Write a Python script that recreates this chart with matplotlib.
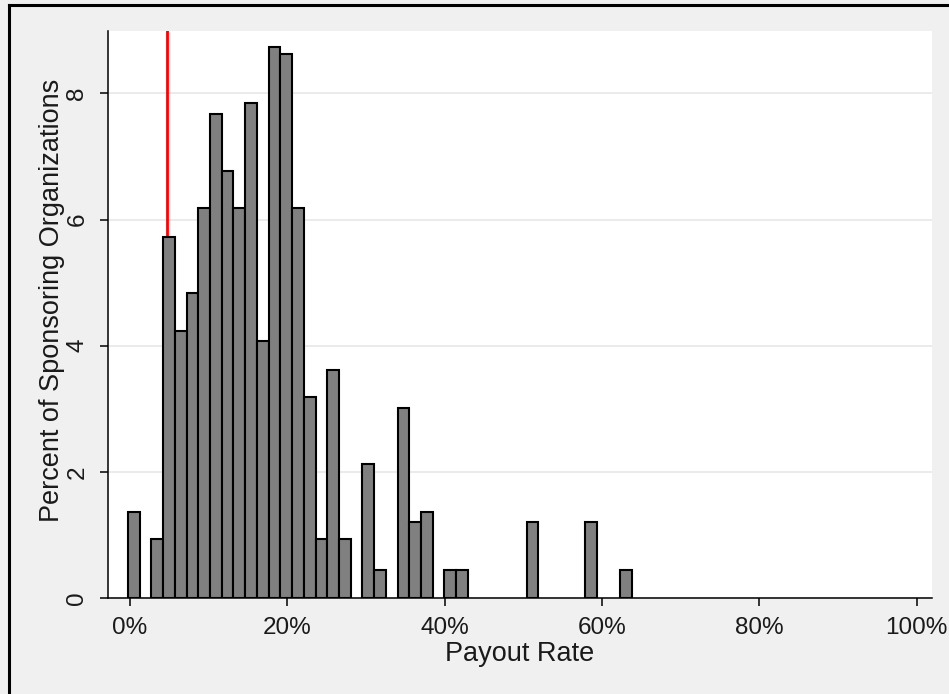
import numpy as np
import matplotlib
matplotlib.use("Agg")
import matplotlib.pyplot as plt
from matplotlib.lines import Line2D
from matplotlib.ticker import FuncFormatter

# histogram of payout rates (percent of organizations per bin)
bin_start = -0.25
bin_width = 1.49
pct_orgs = [1.37, 0.00, 0.93, 5.72, 4.23, 4.83, 6.19, 7.67, 6.77, 6.19,
            7.85, 4.07, 8.73, 8.62, 6.19, 3.18, 0.93, 3.62, 0.93, 0.00,
            2.13, 0.45, 0.00, 3.02, 1.21, 1.37, 0.00, 0.45, 0.45, 0.00,
            0.00, 0.00, 0.00, 0.00, 1.21, 0.00, 0.00, 0.00, 0.00, 1.21,
            0.00, 0.00, 0.45]
min_payout = 4.75  # red reference line
x_ticks = [0, 20, 40, 60, 80, 100]
y_ticks = [0, 2, 4, 6, 8]

heights = np.array(pct_orgs)
edges = bin_start + bin_width * np.arange(len(heights))
keep = heights > 0

plt.rcParams['font.family'] = ['Liberation Sans', 'DejaVu Sans']

fig = plt.figure(figsize=(9.49, 6.94), dpi=100, facecolor='#f0f0f0')
ax = fig.add_axes([0.1135, 0.1383, 0.8685, 0.817])
ax.set_facecolor('white')

ax.axvline(min_payout, color='red', lw=2.0, zorder=1)
ax.bar(edges[keep], heights[keep], width=bin_width, align='edge',
       color='#808080', edgecolor='black', linewidth=1.5, zorder=2)

ax.set_xlim(-2.83, 101.95)
ax.set_ylim(0, 8.99)
ax.set_xticks(x_ticks)
ax.set_yticks(y_ticks)
ax.xaxis.set_major_formatter(FuncFormatter(lambda v, p: f"{v:.0f}%"))
ax.yaxis.grid(True, color='#e8e8e8', lw=1.2, zorder=0)
ax.set_axisbelow(True)

for s in ['top', 'right']:
    ax.spines[s].set_visible(False)
for s in ['left', 'bottom']:
    ax.spines[s].set_linewidth(1.1)
    ax.spines[s].set_color('black')

ax.tick_params(axis='both', length=6, width=1.1, color='black',
               labelsize=17.5, labelcolor='#1a1a1a', pad=8)
for lab in ax.get_yticklabels():
    lab.set_rotation(90)
    lab.set_va('center')

ax.set_xlabel('Payout Rate', fontsize=19.5, color='#1a1a1a', labelpad=1)
ax.set_ylabel('Percent of Sponsoring Organizations', fontsize=19.5,
              color='#1a1a1a')
ax.yaxis.set_label_coords(-0.052, 0.525)

# outer frame (left and top edges visible)
fig.add_artist(Line2D([8.5 / 949, 8.5 / 949], [0, 1 - 5 / 694],
                      transform=fig.transFigure, color='black', lw=2.2))
fig.add_artist(Line2D([8.5 / 949, 1], [1 - 5 / 694, 1 - 5 / 694],
                      transform=fig.transFigure, color='black', lw=2.2))

fig.savefig('out.png', dpi=100, facecolor=fig.get_facecolor())
